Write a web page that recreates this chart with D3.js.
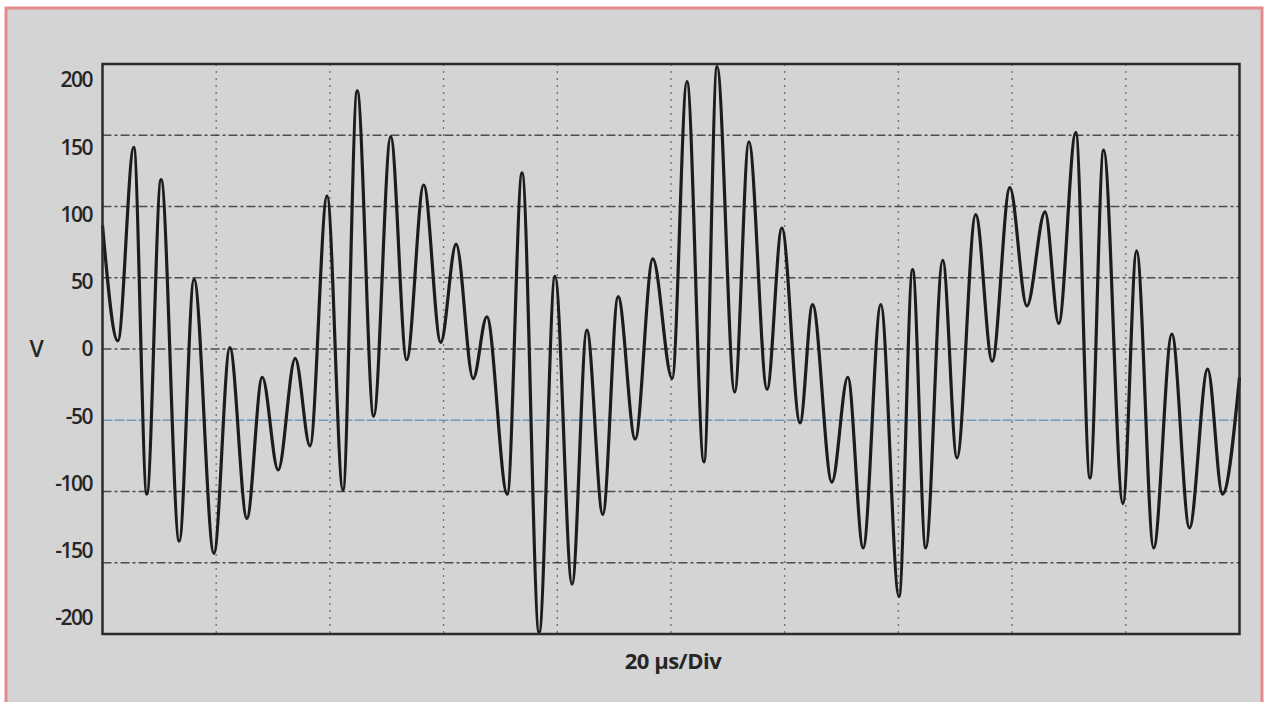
<!DOCTYPE html>
<html>
<head>
<meta charset="utf-8">
<script src="https://cdn.jsdelivr.net/npm/d3@7/dist/d3.min.js"></script>
<style>
  body { margin: 0; background: #fff; }
  svg { display: block; }
  .tick-label { font-family: "Open Sans", sans-serif; font-weight: 600; font-size: 21px; fill: #262626; letter-spacing: -1.5px; }
</style>
</head>
<body>
<div id="chart"></div>
<script>
// time (µs) and voltage (V) at each turning point of the trace
var timeUs = [0, 2.7, 5.5, 7.8, 10.3, 13.5, 16.1, 19.6, 22.4, 25.4, 28.1, 30.9, 33.9, 36.5, 39.5, 42.3,
  44.8, 47.7, 50.7, 53.5, 56.5, 59.5, 62.2, 65.2, 67.6, 71.2, 73.8, 76.8, 79.6, 82.6, 85.2, 88.0,
  90.7, 93.7, 96.8, 100.2, 102.8, 105.8, 108.1, 111.2, 113.7, 116.9, 119.5, 122.7, 124.9, 128.3,
  131.1, 133.8, 136.9, 140.1, 142.5, 144.8, 147.8, 150.3, 153.6, 156.5, 159.6, 162.6, 165.8, 168.2,
  171.2, 173.7, 176.1, 179.5, 181.9, 184.9, 188.1, 191.2, 194.4, 197.0, 200];
var volts = [92, 6, 150, -108, 126, -143, 52, -152, 1, -126, -21, -90, -7, -72, 114, -105,
  192, -50, 158, -8, 122, 5, 78, -22, 24, -108, 131, -211, 54, -175, 14, -123,
  39, -67, 67, -22, 199, -84, 210, -32, 154, -30, 90, -55, 33, -99,
  -21, -148, 33, -184, 59, -148, 66, -81, 100, -9, 120, 32, 102, 19,
  161, -96, 148, -115, 73, -148, 11, -133, -15, -108, -21];

var yTicks = [200, 150, 100, 50, 0, -50, -100, -150, -200];
var gridVolts = [159, 106, 53, -53, -106, -159, 0];
var gridTimes = [20, 40, 60, 80, 100, 120, 140, 160, 180];
var xLabel = "20 µs/Div";
var yLabel = "V";

var width = 1266, height = 702;
var plot = { left: 102.5, top: 64, right: 1239.5, bottom: 634 };

var svg = d3.select('#chart').append('svg')
  .attr('width', width)
  .attr('height', height);

// panel with pink border
svg.append('rect')
  .attr('x', 6).attr('y', 8)
  .attr('width', 1256).attr('height', 700)
  .style('fill', '#d4d4d4')
  .style('stroke', '#e58a8a')
  .style('stroke-width', 3);

var x = d3.scaleLinear().domain([0, 200]).range([plot.left, plot.right]);
var y = d3.scaleLinear().domain([-212, 212]).range([plot.bottom, plot.top]);

// vertical dotted grid
svg.append('g').selectAll('line')
  .data(gridTimes)
  .enter().append('line')
  .attr('x1', function (d) { return x(d); })
  .attr('x2', function (d) { return x(d); })
  .attr('y1', plot.top).attr('y2', plot.bottom)
  .style('stroke', '#555')
  .style('stroke-width', 1.4)
  .style('stroke-dasharray', '2,5')
  .style('opacity', 0.75);

// horizontal dash grid, the -53 line is bluish on the scope
svg.append('g').selectAll('line')
  .data(gridVolts)
  .enter().append('line')
  .attr('x1', plot.left).attr('x2', plot.right)
  .attr('y1', function (d) { return y(d); })
  .attr('y2', function (d) { return y(d); })
  .style('stroke', function (d) { return d === -53 ? '#5f90b8' : '#363636'; })
  .style('stroke-width', 1.6)
  .style('stroke-dasharray', function (d) { return d === -53 ? '10,2' : '9,3,3,3'; })
  .style('opacity', 0.85);

// y tick labels
svg.append('g').selectAll('text')
  .data(yTicks)
  .enter().append('text')
  .attr('class', 'tick-label')
  .attr('x', 92)
  .attr('y', function (d) { return y(d); })
  .attr('dy', '0.35em')
  .attr('text-anchor', 'end')
  .text(function (d) { return d; });

svg.append('text')
  .attr('class', 'tick-label')
  .attr('x', 36).attr('y', y(0))
  .attr('dy', '0.35em')
  .attr('text-anchor', 'middle')
  .style('font-size', '23px')
  .text(yLabel);

svg.append('text')
  .attr('class', 'tick-label')
  .attr('x', (plot.left + plot.right) / 2 + 2)
  .attr('y', 669)
  .attr('text-anchor', 'middle')
  .style('font-size', '22px')
  .style('font-weight', 700)
  .style('letter-spacing', '-0.5px')
  .text(xLabel);

// the trace
var points = timeUs.map(function (t, i) { return [t, volts[i]]; });
var line = d3.line()
  .x(function (d) { return x(d[0]); })
  .y(function (d) { return y(d[1]); })
  .curve(d3.curveMonotoneX);

svg.append('path')
  .datum(points)
  .attr('d', line)
  .style('fill', 'none')
  .style('stroke', '#1c1c1c')
  .style('stroke-width', 3.2)
  .style('stroke-linejoin', 'round');

// frame
svg.append('rect')
  .attr('x', plot.left).attr('y', plot.top)
  .attr('width', plot.right - plot.left)
  .attr('height', plot.bottom - plot.top)
  .style('fill', 'none')
  .style('stroke', '#2a2a2a')
  .style('stroke-width', 2.5);
</script>
</body>
</html>
